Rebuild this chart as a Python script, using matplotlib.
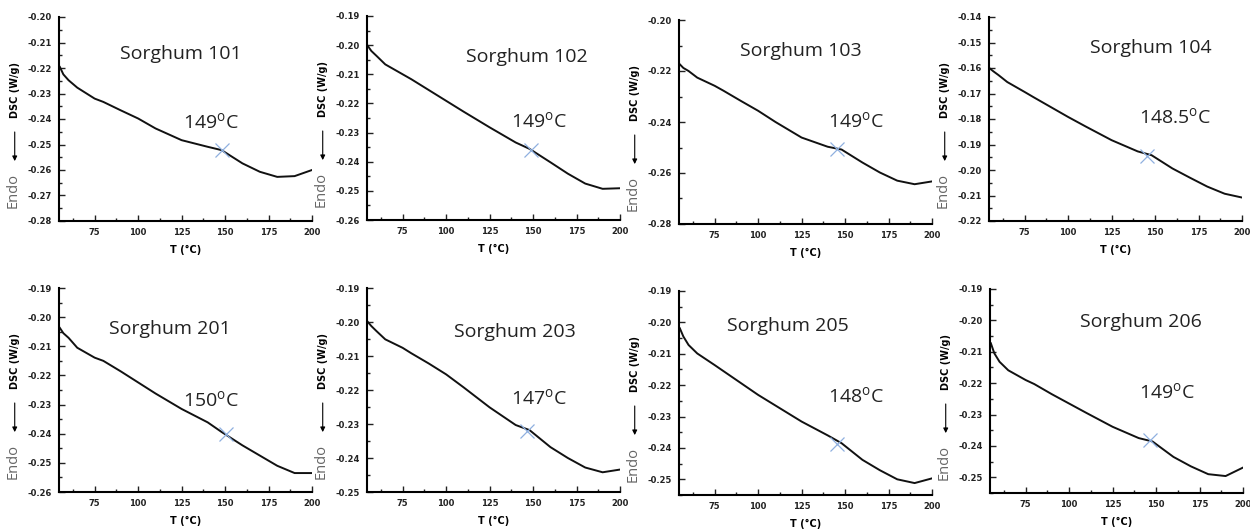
import numpy as np
import matplotlib
matplotlib.use("Agg")
import matplotlib.pyplot as plt
from matplotlib.ticker import MultipleLocator, FormatStrFormatter

plt.rcParams["mathtext.fontset"] = "custom"
plt.rcParams["mathtext.rm"] = "Open Sans"

# sample names and onset temperatures
names = ["Sorghum 101", "Sorghum 102", "Sorghum 103", "Sorghum 104",
         "Sorghum 201", "Sorghum 203", "Sorghum 205", "Sorghum 206"]
onset_labels = ["149", "149", "149", "148.5", "150", "147", "148", "149"]

# DSC traces (T in °C, heat flow in W/g)
t = [55, 57, 60, 65, 75, 80, 90, 100, 110, 125, 140, 148, 160, 170, 180, 190, 200]
dsc_101 = [-0.2196, -0.2225, -0.2248, -0.2277, -0.2320, -0.2333, -0.2366, -0.2398, -0.2437,
           -0.2483, -0.2509, -0.2522, -0.2574, -0.2607, -0.2627, -0.2624, -0.2600]
dsc_102 = [-0.2003, -0.2020, -0.2037, -0.2066, -0.2100, -0.2117, -0.2154, -0.2191, -0.2228,
           -0.2282, -0.2334, -0.2356, -0.2402, -0.2441, -0.2475, -0.2493, -0.2491]
dsc_103 = [-0.2174, -0.2188, -0.2200, -0.2226, -0.2258, -0.2277, -0.2317, -0.2356, -0.2400,
           -0.2461, -0.2497, -0.2508, -0.2559, -0.2598, -0.2630, -0.2644, -0.2633]
dsc_104 = [-0.1602, -0.1613, -0.1628, -0.1655, -0.1694, -0.1714, -0.1753, -0.1792, -0.1829,
           -0.1883, -0.1927, -0.1942, -0.1994, -0.2030, -0.2065, -0.2093, -0.2108]
dsc_201 = [-0.2037, -0.2055, -0.2071, -0.2105, -0.2139, -0.2150, -0.2186, -0.2224, -0.2262,
           -0.2315, -0.2361, -0.2394, -0.2440, -0.2475, -0.2510, -0.2535, -0.2535]
dsc_203 = [-0.2000, -0.2012, -0.2027, -0.2051, -0.2076, -0.2092, -0.2122, -0.2154, -0.2192,
           -0.2251, -0.2303, -0.2318, -0.2368, -0.2400, -0.2428, -0.2442, -0.2434]
dsc_205 = [-0.2019, -0.2045, -0.2072, -0.2099, -0.2136, -0.2155, -0.2193, -0.2231, -0.2265,
           -0.2316, -0.2360, -0.2385, -0.2438, -0.2471, -0.2500, -0.2512, -0.2497]
dsc_206 = [-0.2073, -0.2105, -0.2132, -0.2159, -0.2190, -0.2203, -0.2235, -0.2265, -0.2295,
           -0.2339, -0.2375, -0.2386, -0.2435, -0.2465, -0.2490, -0.2496, -0.2469]
traces = [dsc_101, dsc_102, dsc_103, dsc_104, dsc_201, dsc_203, dsc_205, dsc_206]

# onset marker positions
mark_t = [148.0, 148.8, 145.4, 145.4, 150.4, 146.6, 145.6, 146.7]
mark_y = [-0.2522, -0.2359, -0.2507, -0.1944, -0.2400, -0.2320, -0.2387, -0.2382]

# y limits and tick steps per panel
ylims = [(-0.28, -0.20), (-0.26, -0.19), (-0.28, -0.20), (-0.22, -0.14),
         (-0.26, -0.19), (-0.25, -0.19), (-0.255, -0.19), (-0.255, -0.19)]
ysteps = [0.01, 0.01, 0.02, 0.01, 0.01, 0.01, 0.01, 0.01]

# layout (pixels in a 1250x529 figure)
W, H = 1250, 529
lefts = [59, 367, 679, 989, 59, 367, 679, 990]
tops = [17, 16, 20, 17, 288, 288, 291, 289]
aw, ah = 253, 204
title_pos = [(0.48, 0.82), (0.63, 0.80), (0.48, 0.85), (0.64, 0.85),
             (0.44, 0.80), (0.585, 0.785), (0.43, 0.83), (0.595, 0.84)]
temp_pos = [(0.60, 0.48), (0.68, 0.48), (0.70, 0.50), (0.735, 0.505),
            (0.60, 0.45), (0.68, 0.46), (0.70, 0.48), (0.70, 0.49)]

fig = plt.figure(figsize=(W / 100, H / 100), dpi=100)
txtfont = "Open Sans"

for i in range(8):
    ax = fig.add_axes([lefts[i] / W, 1 - (tops[i] + ah) / H, aw / W, ah / H])
    ax.plot(t, traces[i], color="#111111", lw=1.4)
    ax.plot(mark_t[i], mark_y[i], marker="x", ms=10, mew=0.9, color="#8fb0e0", ls="none")

    ax.set_xlim(54.5, 200)
    ax.set_ylim(*ylims[i])
    ax.xaxis.set_major_locator(MultipleLocator(25))
    ax.xaxis.set_minor_locator(MultipleLocator(12.5))
    ax.yaxis.set_major_locator(MultipleLocator(ysteps[i]))
    ax.yaxis.set_minor_locator(MultipleLocator(ysteps[i] / 2))
    ax.yaxis.set_major_formatter(FormatStrFormatter("%.2f"))
    ax.set_xticks([75, 100, 125, 150, 175, 200])
    for s in ["top", "right"]:
        ax.spines[s].set_visible(False)
    for s in ["left", "bottom"]:
        ax.spines[s].set_linewidth(1.5)
    ax.tick_params(which="both", direction="in", width=1, colors="#222222",
                   labelsize=6, pad=5)
    ax.tick_params(which="major", length=4)
    ax.tick_params(which="minor", length=2.5)
    for lab in ax.get_xticklabels() + ax.get_yticklabels():
        lab.set_fontweight("bold")

    ax.set_xlabel("T (°C)", fontsize=7, fontweight="bold", labelpad=6)

    # vertical y label: DSC (W/g), arrow, Endo
    ax.text(-0.175, 0.64, "DSC (W/g)", transform=ax.transAxes, rotation=90,
            ha="center", va="center", fontsize=7, fontweight="bold")
    ax.annotate("", xy=(-0.175, 0.28), xytext=(-0.175, 0.45),
                xycoords="axes fraction", textcoords="axes fraction",
                arrowprops=dict(arrowstyle="-|>", color="black", lw=0.8,
                                mutation_scale=7))
    ax.text(-0.18, 0.15, "Endo", transform=ax.transAxes, rotation=90,
            ha="center", va="center", fontsize=10.5, color="#666666",
            family=txtfont)

    ax.text(title_pos[i][0], title_pos[i][1], names[i], transform=ax.transAxes,
            ha="center", va="center", fontsize=14, family=txtfont, color="#222222")
    ax.text(temp_pos[i][0], temp_pos[i][1], onset_labels[i] + r"$^{\mathrm{o}}$C",
            transform=ax.transAxes, ha="center", va="center", fontsize=14,
            family=txtfont, color="#222222")

fig.savefig("out.png", dpi=100)
